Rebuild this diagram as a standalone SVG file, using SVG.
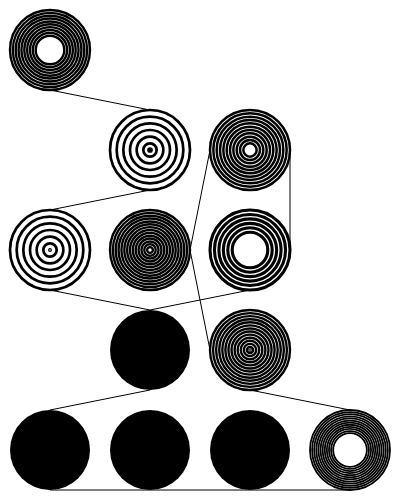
<svg xmlns="http://www.w3.org/2000/svg" width="400" height="500" viewBox="0 0 400 500">
<style>
.r{fill:none;stroke:#000}
.wa{stroke-width:2.4}
.wb{stroke-width:2.7}
.wc{stroke-width:2.5}
.wf{stroke-width:3.1}
.wl{stroke-width:1.8}
.edge{stroke:#000;stroke-width:1;fill:none}
.solid{fill:#000}
</style>
<rect width="400" height="500" fill="#fff"/>
<g id="connectors">
<line class="edge" x1="50" y1="90" x2="150" y2="110"/>
<line class="edge" x1="150" y1="190" x2="50" y2="210"/>
<line class="edge" x1="210" y1="150" x2="190" y2="250"/>
<line class="edge" x1="290" y1="150" x2="290" y2="250"/>
<line class="edge" x1="50" y1="290" x2="150" y2="310"/>
<line class="edge" x1="250" y1="290" x2="150" y2="310"/>
<line class="edge" x1="190" y1="250" x2="210" y2="350"/>
<line class="edge" x1="150" y1="390" x2="50" y2="410"/>
<line class="edge" x1="250" y1="390" x2="350" y2="410"/>
<line class="edge" x1="50" y1="490" x2="350" y2="490"/>
</g>
<g id="nA" transform="translate(50,50)" class="r wa">
<circle r="14.29"/><circle r="17.14"/><circle r="20"/><circle r="22.86"/><circle r="25.71"/><circle r="28.57"/><circle r="31.43"/><circle r="34.29"/><circle r="37.14"/><circle r="40"/>
</g>
<g id="nB" transform="translate(150,150)" class="r wb">
<circle r="1.5"/><circle r="6.67"/><circle r="13.33"/><circle r="20"/><circle r="26.67"/><circle r="33.33"/><circle r="40"/>
</g>
<g id="nC" transform="translate(250,150)" class="r wc">
<circle r="6.67"/><circle r="10"/><circle r="13.33"/><circle r="16.67"/><circle r="20"/><circle r="23.33"/><circle r="26.67"/><circle r="30"/><circle r="33.33"/><circle r="36.67"/><circle r="40"/>
</g>
<g id="nD" transform="translate(50,250)" class="r wb">
<circle r="0.6"/><circle r="6.67"/><circle r="13.33"/><circle r="20"/><circle r="26.67"/><circle r="33.33"/><circle r="40"/>
</g>
<g id="nE" transform="translate(150,250)" class="r wa">
<circle r="2.86"/><circle r="5.71"/><circle r="8.57"/><circle r="11.43"/><circle r="14.29"/><circle r="17.14"/><circle r="20"/><circle r="22.86"/><circle r="25.71"/><circle r="28.57"/><circle r="31.43"/><circle r="34.29"/><circle r="37.14"/><circle r="40"/>
</g>
<g id="nF" transform="translate(250,250)" class="r wf">
<circle r="17.78"/><circle r="22.22"/><circle r="26.67"/><circle r="31.11"/><circle r="35.56"/><circle r="40"/>
</g>
<g id="nG" transform="translate(150,350)"><circle class="solid" r="40"/></g>
<g id="nH" transform="translate(250,350)" class="r wa">
<circle r="0.5"/><circle r="3.08"/><circle r="6.15"/><circle r="9.23"/><circle r="12.31"/><circle r="15.38"/><circle r="18.46"/><circle r="21.54"/><circle r="24.62"/><circle r="27.69"/><circle r="30.77"/><circle r="33.85"/><circle r="36.92"/><circle r="40"/>
</g>
<g id="nI" transform="translate(50,450)"><circle class="solid" r="40"/></g>
<g id="nJ" transform="translate(150,450)"><circle class="solid" r="40"/></g>
<g id="nK" transform="translate(250,450)"><circle class="solid" r="40"/></g>
<g id="nL" transform="translate(350,450)" class="r wl">
<circle r="16.84"/><circle r="18.95"/><circle r="21.05"/><circle r="23.16"/><circle r="25.26"/><circle r="27.37"/><circle r="29.47"/><circle r="31.58"/><circle r="33.68"/><circle r="35.79"/><circle r="37.89"/><circle r="40"/>
</g>
</svg>
